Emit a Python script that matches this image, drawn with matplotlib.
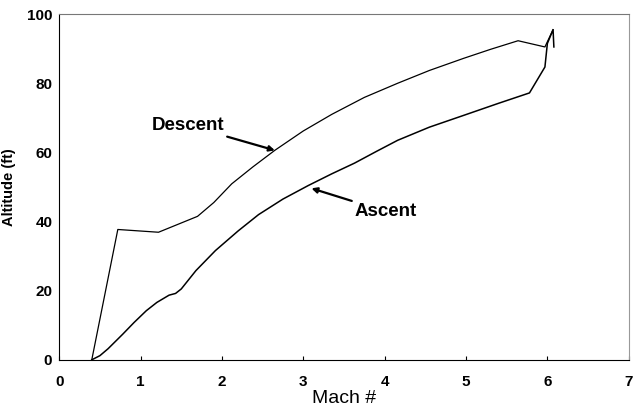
import matplotlib
matplotlib.use("Agg")
import matplotlib.pyplot as plt

# ascent leg, Mach vs altitude
ascent_mach = [0.40, 0.50, 0.60, 0.78, 0.92, 1.07, 1.20, 1.35, 1.43, 1.50, 1.68, 1.92, 2.20, 2.45,
               2.75, 3.06, 3.35, 3.63, 3.90, 4.16, 4.55, 4.97, 5.40, 5.78, 5.97, 6.00, 6.07, 6.08]
ascent_alt = [0.0, 1.2, 3.2, 7.4, 10.8, 14.2, 16.6, 18.7, 19.2, 20.5, 25.8, 31.6, 37.3, 42.0,
              46.5, 50.4, 53.8, 56.9, 60.3, 63.5, 67.3, 70.7, 74.2, 77.2, 84.7, 91.5, 95.5, 90.5]

# descent leg, from the top back down
descent_mach = [6.07, 5.97, 5.64, 5.30, 4.97, 4.55, 4.16, 3.75, 3.35, 3.00, 2.65, 2.38, 2.12,
                1.90, 1.70, 1.22, 0.72, 0.40]
descent_alt = [95.5, 90.5, 92.3, 89.8, 87.2, 83.7, 80.0, 75.9, 71.0, 66.2, 60.6, 55.8, 50.9,
               45.5, 41.5, 36.9, 37.7, 0.0]

xticks = [0, 1, 2, 3, 4, 5, 6, 7]
yticks = [0, 20, 40, 60, 80, 100]

plt.rcParams['font.family'] = ['Liberation Sans', 'DejaVu Sans']

fig = plt.figure(figsize=(6.37, 4.15), dpi=100)
ax = fig.add_axes([0.093, 0.133, 0.894, 0.833])

ax.plot(ascent_mach, ascent_alt, color='black', lw=1.1)
ax.plot(descent_mach, descent_alt, color='black', lw=0.9)

ax.set_xlim(0, 7)
ax.set_ylim(0, 100)
ax.set_xticks(xticks)
ax.set_yticks(yticks)
ax.tick_params(axis='x', direction='in', length=3, pad=11, labelsize=11)
ax.tick_params(axis='y', length=0, pad=5, labelsize=11)
for lab in ax.get_xticklabels() + ax.get_yticklabels():
    lab.set_fontweight('bold')

for s in ax.spines.values():
    s.set_linewidth(0.8)
ax.spines['top'].set_color('#777777')
ax.spines['right'].set_color('#999999')

ax.set_xlabel('Mach #', fontsize=14, labelpad=1)
ax.set_ylabel('Altitude (ft)', fontsize=10.5, fontweight='bold', labelpad=8)

ax.annotate('Descent', xy=(2.65, 60.6), xytext=(2.03, 67.8),
            ha='right', va='center', fontsize=13.5, fontweight='bold',
            arrowprops=dict(arrowstyle='-|>', color='black', lw=1.6,
                            mutation_scale=8, shrinkA=0, shrinkB=0))
ax.annotate('Ascent', xy=(3.10, 49.6), xytext=(3.63, 42.9),
            ha='left', va='center', fontsize=13.5, fontweight='bold',
            arrowprops=dict(arrowstyle='-|>', color='black', lw=1.6,
                            mutation_scale=8, shrinkA=0, shrinkB=0))

fig.savefig('out.png', dpi=100)
